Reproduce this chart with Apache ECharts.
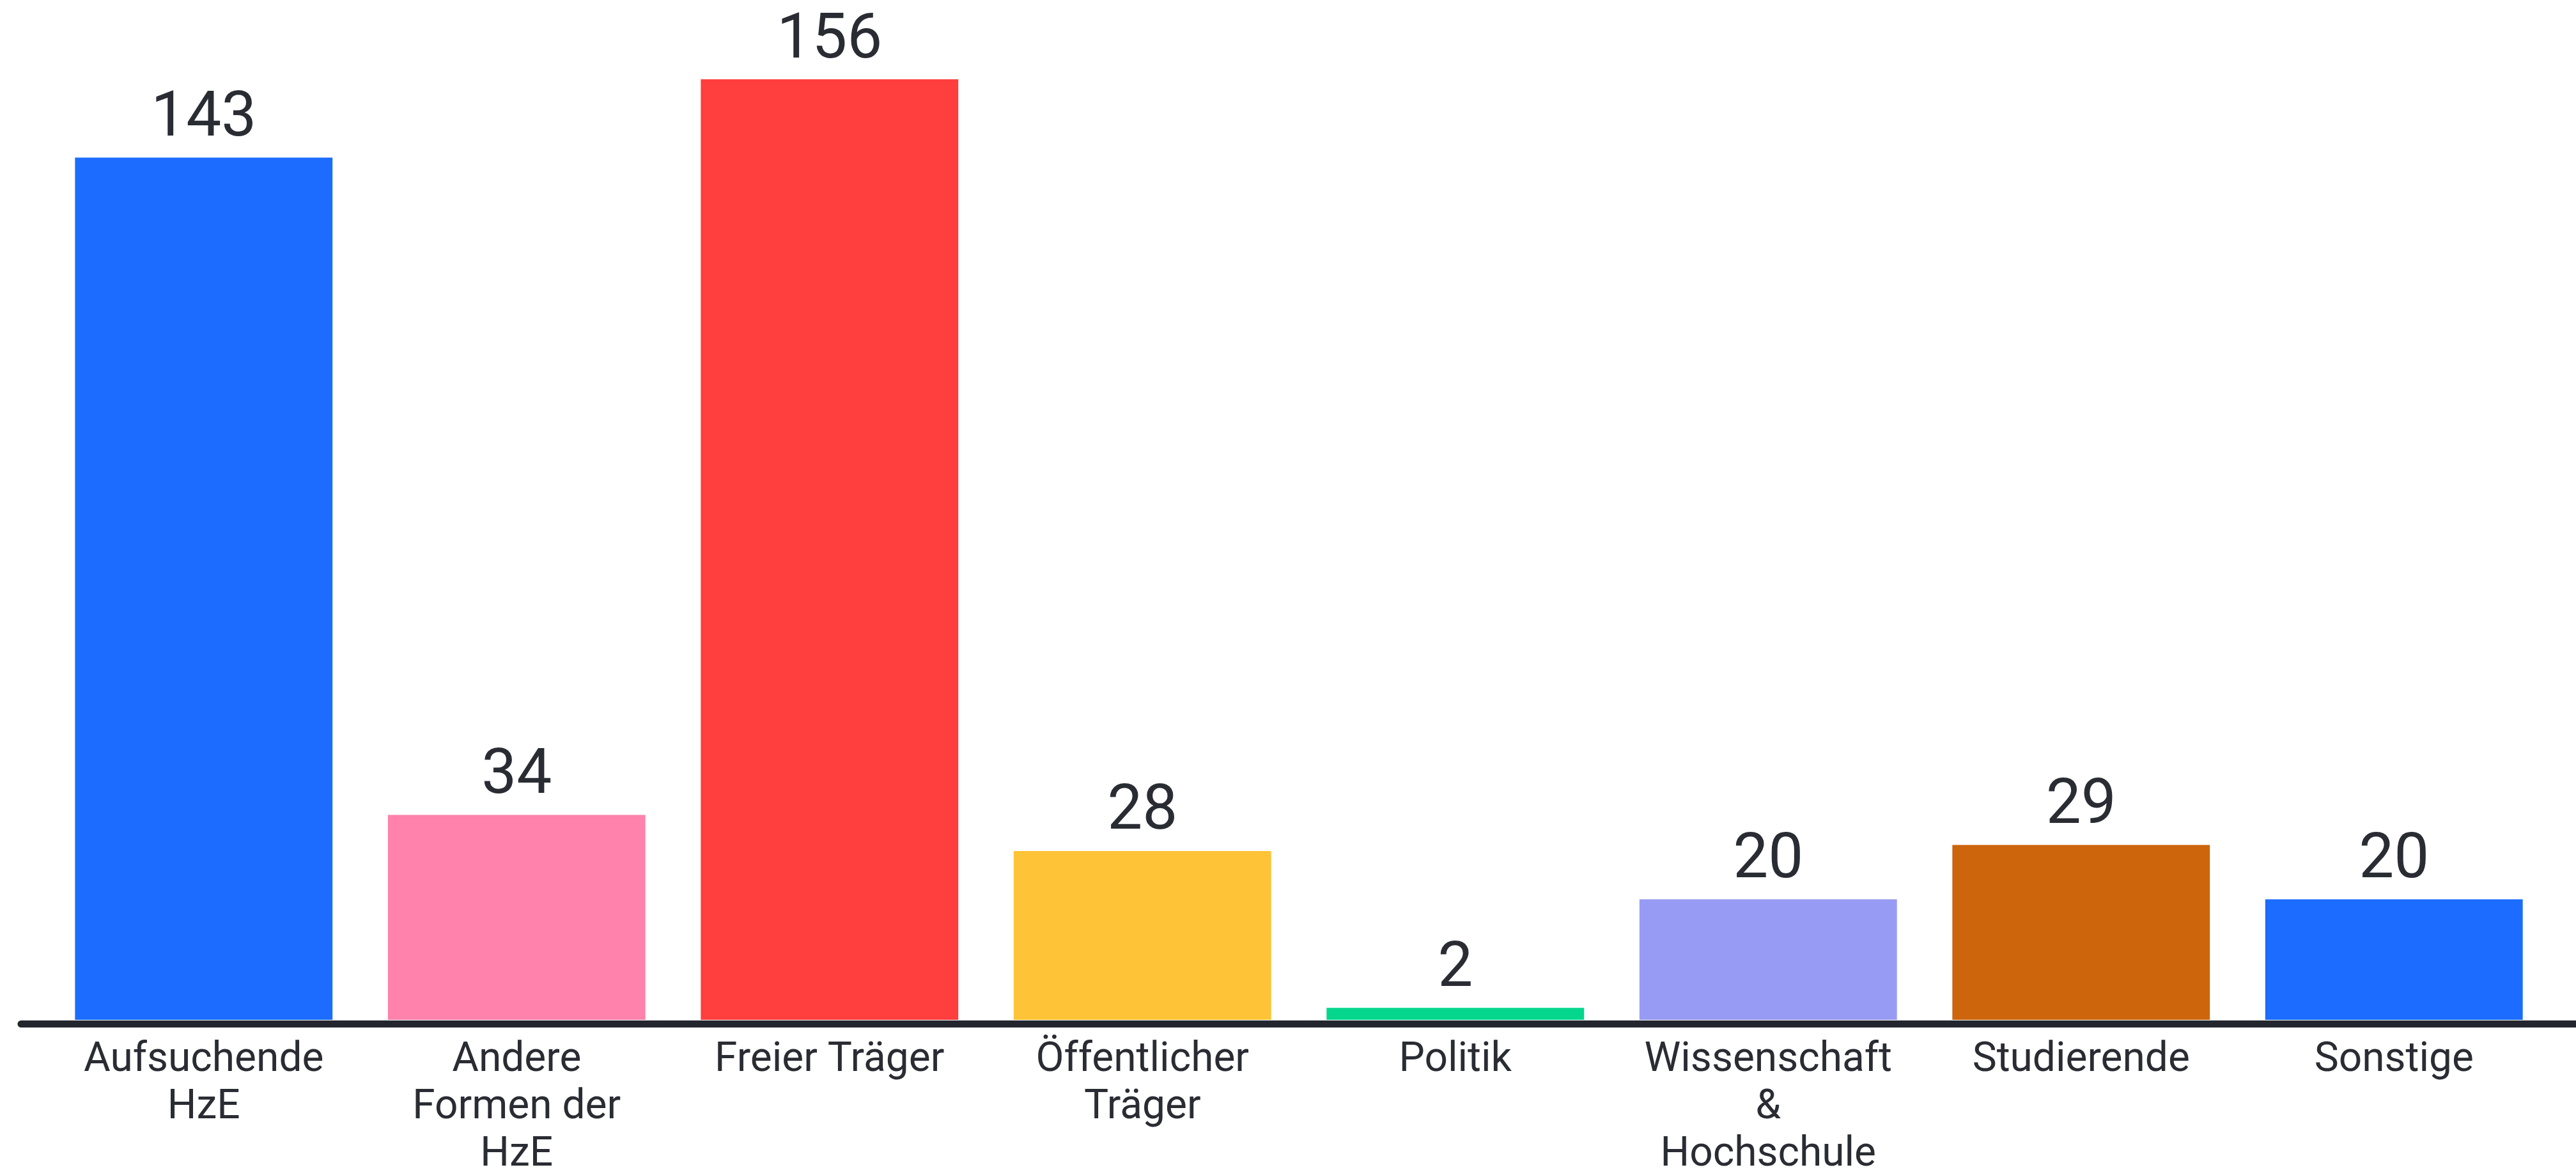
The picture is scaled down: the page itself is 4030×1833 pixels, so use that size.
<!DOCTYPE html>
<html>
<head>
<meta charset="utf-8">
<script src="https://cdn.jsdelivr.net/npm/echarts@6/dist/echarts.min.js"></script>
<style>
html,body{margin:0;padding:0;background:#fff;}
#chart{width:4030px;height:1833px;}
</style>
</head>
<body>
<div id="chart"></div>
<script>
const categories = ["Aufsuchende HzE", "Andere Formen der HzE", "Freier Träger", "Öffentlicher Träger", "Politik", "Wissenschaft & Hochschule", "Studierende", "Sonstige"];
const tickLabels = ["Aufsuchende\nHzE", "Andere\nFormen der\nHzE", "Freier Träger", "Öffentlicher\nTräger", "Politik", "Wissenschaft\n&\nHochschule", "Studierende", "Sonstige"];
const values = [143, 34, 156, 28, 2, 20, 29, 20];
const colors = ["#1b6cff", "#fe82ab", "#ff3e3e", "#fec337", "#05d68e", "#979bf3", "#cc650c", "#1b6cff"];

const chart = echarts.init(document.getElementById('chart'), null, {renderer: 'canvas'});
const font = 'Roboto, "Noto Sans", sans-serif';
chart.setOption({
  animation: false,
  backgroundColor: '#ffffff',
  grid: [
    {left: 74, right: 40, top: 86.3, bottom: 238, containLabel: false, outerBoundsMode: 'none'},
    {left: 33, right: 0, top: 86.3, bottom: 231.5, containLabel: false, outerBoundsMode: 'none'}
  ],
  xAxis: [
    {
      type: 'category',
      gridIndex: 0,
      data: categories,
      axisLine: {show: false},
      axisTick: {show: false},
      axisLabel: {
        interval: 0,
        margin: 27,
        fontFamily: font,
        fontSize: 64,
        lineHeight: 74,
        color: '#2a2c33',
        formatter: function (v, i) { return tickLabels[i]; }
      }
    },
    {
      type: 'category',
      gridIndex: 1,
      data: [''],
      axisLine: {show: true, lineStyle: {color: '#23262e', width: 11}},
      axisTick: {show: false},
      axisLabel: {show: false}
    }
  ],
  yAxis: [
    {type: 'value', gridIndex: 0, min: 0, max: 160, show: false, splitLine: {show: false}},
    {type: 'value', gridIndex: 1, min: 0, max: 160, show: false, splitLine: {show: false}}
  ],
  series: [{
    type: 'bar',
    xAxisIndex: 0,
    yAxisIndex: 0,
    data: values.map((v, i) => ({value: v, itemStyle: {color: colors[i]}})),
    barCategoryGap: '17.7%',
    label: {
      show: true,
      position: 'top',
      distance: 10,
      fontFamily: font,
      fontSize: 98,
      color: '#2a2c33'
    }
  }]
});
</script>
</body>
</html>
